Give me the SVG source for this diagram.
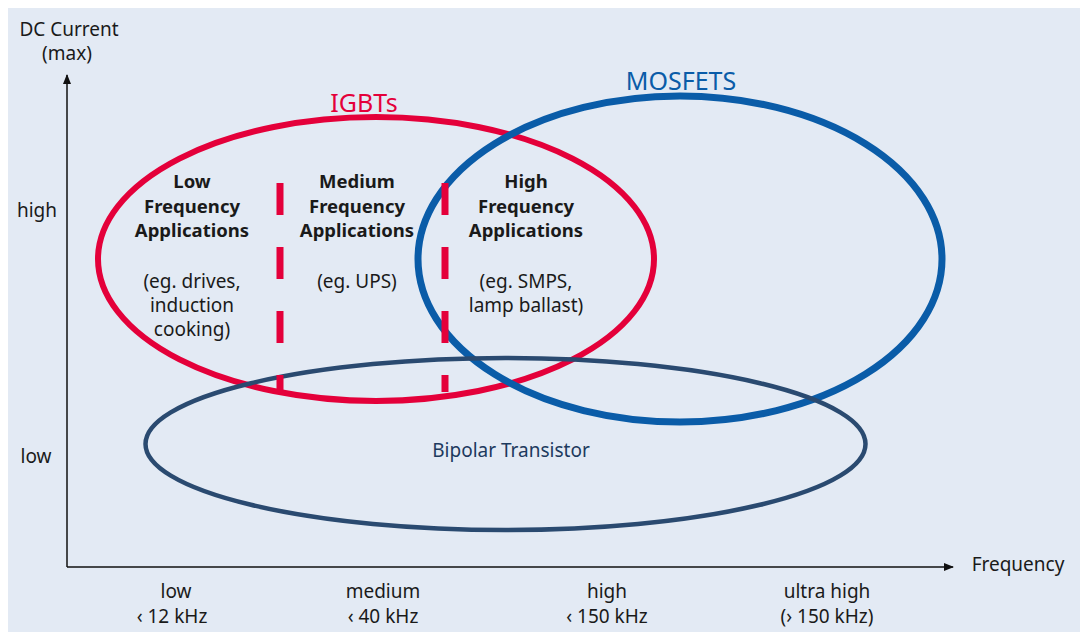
<svg xmlns="http://www.w3.org/2000/svg" width="1080" height="632" viewBox="0 0 1080 632">
<defs>
<style>
text{font-family:"Noto Sans","Open Sans",sans-serif;fill:#1a1a1a;font-size:19px;text-anchor:middle}
.b{font-weight:bold;font-size:18.5px}
.ax{stroke:#111;stroke-width:1.5;fill:none}
</style>
<marker id="arr" markerWidth="10" markerHeight="8" refX="9" refY="4" orient="auto" markerUnits="userSpaceOnUse">
<path d="M0,0 L10,4 L0,8 Z" fill="#111"/>
</marker>
</defs>
<rect x="0" y="0" width="1080" height="632" fill="#fff"/>
<rect x="8" y="8" width="1072" height="624" fill="#e3eaf4"/>
<g id="axes">
<line class="ax" x1="67" y1="567" x2="67" y2="75" marker-end="url(#arr)"/>
<line class="ax" x1="67" y1="567" x2="953" y2="567" marker-end="url(#arr)"/>
<text x="69" y="36">DC Current</text>
<text x="67" y="60">(max)</text>
<text x="37" y="217">high</text>
<text x="36" y="463">low</text>
<text x="1018" y="571">Frequency</text>
<text x="176" y="598">low</text>
<text x="172" y="623">‹ 12 kHz</text>
<text x="383" y="598">medium</text>
<text x="383" y="623">‹ 40 kHz</text>
<text x="607" y="598">high</text>
<text x="607" y="623">‹ 150 kHz</text>
<text x="827" y="598">ultra high</text>
<text x="827" y="623">(› 150 kHz)</text>
</g>
<g id="igbt">
<ellipse cx="376" cy="259" rx="278" ry="142" fill="none" stroke="#e4003a" stroke-width="6"/>
<text x="364" y="112" style="font-size:25px;fill:#e4003a">IGBTs</text>
</g>
<g id="mosfet">
<ellipse cx="680" cy="259" rx="262" ry="163" fill="none" stroke="#0a5ca8" stroke-width="7"/>
<text x="681" y="90" style="font-size:25px;fill:#0a5ca8">MOSFETS</text>
</g>
<g id="bipolar">
<ellipse cx="505.5" cy="444" rx="360" ry="86" fill="none" stroke="#2a4a70" stroke-width="4.5"/>
<text x="511" y="457" style="fill:#1d3a5e">Bipolar Transistor</text>
</g>
<g id="dividers" stroke="#e4003a" stroke-width="7" stroke-dasharray="32 32">
<line x1="280" y1="183" x2="280" y2="392"/>
<line x1="445" y1="183" x2="445" y2="392"/>
</g>
<g id="low-app">
<text class="b" x="192" y="188">Low</text>
<text class="b" x="192" y="213">Frequency</text>
<text class="b" x="192" y="237">Applications</text>
<text x="192" y="288">(eg. drives,</text>
<text x="192" y="312">induction</text>
<text x="192" y="336">cooking)</text>
</g>
<g id="medium-app">
<text class="b" x="357" y="188">Medium</text>
<text class="b" x="357" y="213">Frequency</text>
<text class="b" x="357" y="237">Applications</text>
<text x="357" y="288">(eg. UPS)</text>
</g>
<g id="high-app">
<text class="b" x="526" y="188">High</text>
<text class="b" x="526" y="213">Frequency</text>
<text class="b" x="526" y="237">Applications</text>
<text x="526" y="288">(eg. SMPS,</text>
<text x="526" y="312">lamp ballast)</text>
</g>
</svg>
